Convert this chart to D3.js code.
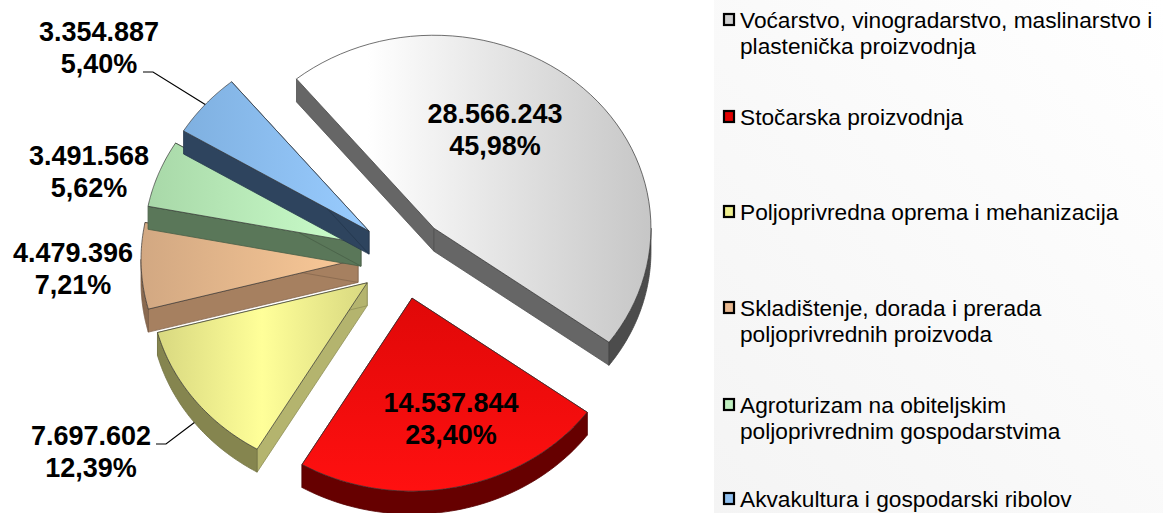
<!DOCTYPE html>
<html>
<head>
<meta charset="utf-8">
<script src="https://cdn.jsdelivr.net/npm/d3@7"></script>
<style>
  html, body { margin: 0; padding: 0; background: #fff; overflow: hidden; }
  text { font-family: "Liberation Sans", Arial, sans-serif; fill: #000; }
</style>
</head>
<body>
<svg id="chart"></svg>
<script>
const categories = [
  "Voćarstvo, vinogradarstvo, maslinarstvo i|plastenička proizvodnja",
  "Stočarska proizvodnja",
  "Poljoprivredna oprema i mehanizacija",
  "Skladištenje, dorada i prerada|poljoprivrednih proizvoda",
  "Agroturizam na obiteljskim|poljoprivrednim gospodarstvima",
  "Akvakultura i gospodarski ribolov"
];
const amounts = [28566243, 14537844, 7697602, 4479396, 3491568, 3354887];
const amountLabels = ["28.566.243", "14.537.844", "7.697.602", "4.479.396", "3.491.568", "3.354.887"];
const percentLabels = ["45,98%", "23,40%", "12,39%", "7,21%", "5,62%", "5,40%"];

const topColors = [
  [[0.2, "#ffffff"], [1, "#c6c6c6"]],
  [[0, "#e00808"], [1, "#ff1010"]],
  [[0, "#d8d880"], [0.5, "#ffff99"], [1, "#d8d880"]],
  [[0, "#d2a882"], [1, "#fbca98"]],
  [[0, "#a8d8a8"], [1, "#ccffcc"]],
  [[0, "#7fb0e0"], [1, "#99ccff"]]
];
const wallColors = ["#666666", "#5c0000", "#b4b46e", "#a68060", "#5a7759", "#2e445e"];
const rimColors = ["#4c4c4c", "#660000", "#85854f", "#8a6a50", "#4a6349", "#26384e"];
const legendColors = ["#d0d0d0", "#e00000", "#f0f090", "#e8b890", "#c0f0c0", "#90c0f0"];
const paintOrder = [0, 1, 2, 3, 4, 5];

const width = 1163, height = 513;
const cx = 403, cy = 258, rx = 217, ry = 193, depth = 23, explodeX = 45, explodeY = 41;
const startDeg = -39.3;

// label centres, chart layout only
const labelPos = [[495, 123], [451, 412], [91, 445], [73, 262], [89, 165], [99, 41]];
const legendY = [28, 125, 220, 316, 413, 507];

const svg = d3.select("#chart").attr("width", width).attr("height", height)
  .attr("viewBox", [0, 0, width, height]).style("display", "block");

const defs = svg.append("defs");
const bg = defs.append("linearGradient").attr("id", "bg").attr("x1", 1).attr("y1", 0).attr("x2", 0).attr("y2", 1);
bg.append("stop").attr("offset", 0).attr("stop-color", "#ffffff");
bg.append("stop").attr("offset", 1).attr("stop-color", "#f4f4f4");
svg.append("rect").attr("width", width).attr("height", height).attr("fill", "#fff");
svg.append("rect").attr("x", 714).attr("width", width - 714).attr("height", height).attr("fill", "url(#bg)");

const pie = d3.pie().sort(null)
  .startAngle(startDeg * Math.PI / 180)
  .endAngle((startDeg + 360) * Math.PI / 180);
const arcs = pie(amounts);

topColors.forEach((stops, i) => {
  const g = defs.append("linearGradient").attr("id", "top" + i);
  if (i == 1) g.attr("x1", 0).attr("y1", 0).attr("x2", 0).attr("y2", 1);
  stops.forEach(s => g.append("stop").attr("offset", s[0]).attr("stop-color", s[1]));
});

const line = d3.line();

function apex(a) {
  const mid = (a.startAngle + a.endAngle) / 2;
  return [cx + explodeX * Math.sin(mid), cy - explodeY * Math.cos(mid)];
}
function rim(a, t) {
  const p = apex(a);
  return [p[0] + rx * Math.sin(t), p[1] - ry * Math.cos(t)];
}
function arcPoints(a, t0, t1) {
  return d3.range(0, 61).map(k => rim(a, t0 + (t1 - t0) * k / 60));
}
const down = ([x, y]) => [x, y + depth];

const slices = svg.append("g");

paintOrder.forEach(i => {
  const a = arcs[i], g = slices.append("g");
  const p = apex(a), s = rim(a, a.startAngle), e = rim(a, a.endAngle);
  // radial walls
  [s, e].forEach(q => {
    g.append("path").attr("d", line([p, q, down(q), down(p)]) + "Z")
      .attr("fill", wallColors[i]).attr("stroke", d3.color(wallColors[i]).darker(0.6)).attr("stroke-width", 0.8);
  });
  // outer wall, only the part turned towards the viewer
  const t0 = Math.max(a.startAngle, Math.PI / 2), t1 = Math.min(a.endAngle, Math.PI * 1.5);
  if (t1 > t0) {
    const pts = arcPoints(a, t0, t1);
    g.append("path").attr("d", line(pts.concat(pts.map(down).reverse())) + "Z")
      .attr("fill", rimColors[i]).attr("stroke", d3.color(rimColors[i]).darker(0.4)).attr("stroke-width", 0.8);
  }
  // top face
  g.append("path").attr("d", line([p].concat(arcPoints(a, a.startAngle, a.endAngle))) + "Z")
    .attr("fill", `url(#top${i})`).attr("stroke", "#333").attr("stroke-width", 0.7).attr("stroke-linejoin", "round");
});

// leader lines for the blue and yellow slices
const leaders = [{ i: 5, from: [143, 72], elbow: [153, 72], drop: 0 }, { i: 2, from: [156, 444], elbow: [166, 444], drop: depth }];
leaders.forEach(d => {
  const mid = (arcs[d.i].startAngle + arcs[d.i].endAngle) / 2;
  const q = rim(arcs[d.i], mid);
  svg.append("path").attr("d", line([d.from, d.elbow, [q[0], q[1] + d.drop]]))
    .attr("fill", "none").attr("stroke", "#000").attr("stroke-width", 1.2);
});

// value labels
const labels = svg.append("g").attr("text-anchor", "middle")
  .attr("font-weight", "bold").attr("font-size", 27);
amountLabels.forEach((t, i) => {
  labels.append("text").attr("x", labelPos[i][0]).attr("y", labelPos[i][1]).text(t);
  labels.append("text").attr("x", labelPos[i][0]).attr("y", labelPos[i][1] + 32).text(percentLabels[i]);
});

// legend
const legend = svg.append("g");
categories.forEach((c, i) => {
  const g = legend.append("g").attr("transform", `translate(723,${legendY[i]})`);
  g.append("rect").attr("x", 1).attr("y", -14).attr("width", 10).attr("height", 11)
    .attr("fill", legendColors[i]).attr("stroke", "#000").attr("stroke-width", 2.2);
  c.split("|").forEach((t, k) => {
    g.append("text").attr("x", 17).attr("y", k * 26).attr("font-size", 22.7).text(t);
  });
});
</script>
</body>
</html>
